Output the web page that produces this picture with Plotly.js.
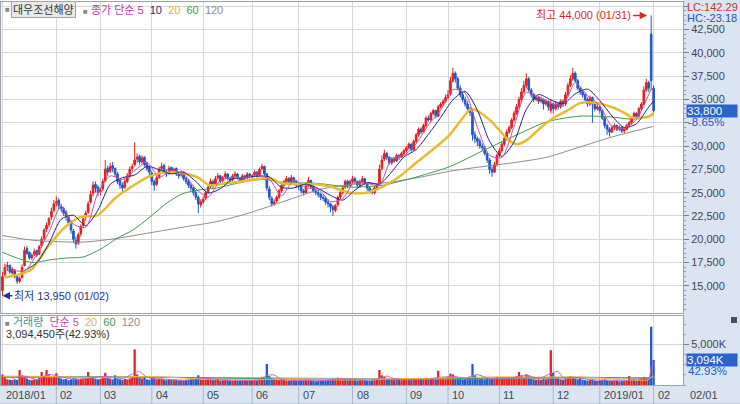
<!DOCTYPE html>
<html><head><meta charset="utf-8">
<script src="https://cdn.plot.ly/plotly-3.0.1.min.js"></script>
<style>html,body{margin:0;padding:0;background:#fff;}#chart{width:740px;height:404px;}</style>
</head><body><div id="chart"></div>
<script>
// ---- daily OHLC (KRW), 2018-01-02 .. 2019-02-01, one value per trading day ----
const openPrice=[
14500,16200,17100,17200,16400,16700,16000,15500,15900,17200,
19000,18600,18000,18400,18800,18400,19300,20100,21100,21600,
22400,23100,23900,24200,23500,23300,22900,22400,21800,20900,
19900,19600,20600,21500,22400,22900,24000,24900,25900,25600,
25100,25400,26300,27600,27300,27900,27600,27000,26300,25800,
25600,26200,26800,27600,28000,28600,28900,28300,28800,28100,
27700,27100,26200,25900,26600,27600,27900,27300,27100,27700,
27200,27600,27000,26900,27200,26500,26200,25800,25500,25000,
24500,23700,24000,24400,25100,25700,26200,25900,26600,26800,
26300,26700,27000,26500,26400,26800,27000,26600,26300,26800,
26600,27000,26700,26900,27200,26900,27600,27800,27000,25400,
24400,23800,24100,24500,25200,25800,26200,26500,26200,26600,
26200,25900,25800,25200,25000,25800,26300,25600,25200,25000,
24800,24500,24400,24000,23800,23500,23100,23700,24500,25000,
25600,26200,25800,26200,26500,26200,25800,26200,26500,26000,
25500,25200,25000,25500,26000,27600,28600,29200,28800,28200,
28600,28400,29000,28800,29200,29500,29800,30200,29600,30500,
31200,31800,31500,32200,33000,32800,33500,33800,33200,34200,
34500,34800,35200,35600,37000,37800,37200,36200,35500,35000,
34500,34000,33600,31200,30800,30500,30000,29800,29200,28500,
27500,27200,28000,29000,29500,30200,30800,31500,32000,32800,
33500,34200,35000,35800,36500,37200,36000,35500,35000,35200,
34800,35000,34500,34800,33800,34500,34000,34500,34200,34800,
34500,35500,36500,37200,37800,37000,36200,35800,35500,35000,
34500,35200,34500,34000,34200,33800,33000,32200,31800,31500,
32000,32200,31800,32000,31600,31800,32200,32500,33000,33500,
33200,34000,34500,36000,36800,42000,36200];
const highPrice=[
16500,17400,17600,17300,17000,16800,16200,16000,17300,19200,
19300,18700,18500,19000,18900,19400,20300,21200,21800,22400,
23400,24200,24600,24400,23800,23500,23100,22600,22000,21100,
20300,20700,21600,22500,23100,24100,25200,26200,26200,25800,
25600,26500,28500,27900,28200,28300,27700,27200,26500,26100,
26500,27100,27800,28100,30400,29200,29100,29000,28900,28300,
27900,27300,26400,26800,27800,28200,28100,27500,27900,27800,
27700,27700,27200,27400,27300,26700,26400,26000,25700,25200,
24700,24300,24600,25200,25800,26500,26400,26800,27100,26900,
26800,27300,27100,26700,27000,27300,27100,26700,27000,26900,
27200,27100,27000,27400,27300,27700,28100,27900,27100,25700,
24600,24300,24700,25400,26000,26400,26800,26700,26900,26700,
26400,26100,25900,25400,26000,26700,26400,25800,25400,25300,
25000,24800,24600,24300,23900,23700,23800,24700,25200,25700,
26400,26400,26400,26800,26700,26300,26400,26800,26600,26100,
25600,25400,25700,26000,28000,29000,29600,29400,28900,28800,
28800,29200,29100,29400,29700,30000,30400,30300,30700,31400,
32000,32000,32400,33200,33300,33700,34000,33900,34400,34700,
35000,35500,36000,37400,38400,38000,37400,36500,35800,35300,
34800,34200,33800,31600,31000,30800,30300,30000,29400,28700,
27800,28300,29200,29800,30500,31000,31800,32200,33000,33800,
34500,35300,36200,37000,37800,37400,36200,35700,35500,35400,
35300,35100,35000,34900,35000,34700,34800,34700,35000,35000,
35800,36800,37600,38400,38000,37200,36400,36000,35700,35200,
35400,35300,34700,34500,34400,33900,33200,32400,32000,32200,
32400,32300,32200,32100,32000,32400,32700,33200,33700,33600,
34200,34700,36400,37200,37000,44000,36500];
const lowPrice=[
13950,16000,16600,16300,16200,15800,15200,15300,15800,17100,
18300,17800,17800,18200,18100,18300,19100,19900,20800,21300,
22100,22900,23500,23200,22900,22500,22000,21500,20600,19600,
19000,19400,20300,21200,22000,22700,23800,24600,25000,24600,
24700,25200,26100,26800,27100,27200,26700,25900,25400,25100,
25400,26000,26600,27300,27800,28200,28000,28100,27800,27300,
26800,25800,25200,25700,26500,27300,27100,26700,26900,27000,
27000,26800,26500,26700,26300,25900,25500,25200,24700,24200,
22800,23400,23800,24200,24900,25500,25500,25700,26400,26000,
26100,26500,26300,26000,26200,26600,26400,26000,26100,26300,
26400,26500,26500,26700,26600,26700,27400,26800,25200,24200,
23500,23600,23900,24300,25000,25600,26000,25900,26000,25900,
25500,25300,24900,24700,24900,25600,25400,25000,24700,24500,
24200,24100,23700,23400,22900,22500,22900,23500,24300,24800,
25400,25500,25600,26000,25900,25500,25600,26000,25800,25200,
24900,24800,24800,25300,25900,27400,28400,28500,28000,28000,
28200,28300,28500,28700,29000,29300,29600,29400,29500,30300,
31000,31300,31400,32000,32600,32600,33300,33000,33100,34000,
34300,34600,35000,35400,36800,36800,36000,35200,34700,34200,
33700,33200,30600,30300,30000,29700,29500,29000,28200,27000,
26700,27100,27800,28800,29300,30000,30600,31300,31800,32600,
33300,34000,34800,35600,36200,35800,35200,34700,34800,34500,
34600,33900,34300,33800,33500,33500,33800,33900,34000,34200,
34300,35300,36300,37000,36800,36000,35500,35200,34700,34200,
34300,32500,33700,33800,33500,32800,31900,31200,31000,31400,
31700,31600,31600,31400,31400,31700,32000,32300,32800,32900,
33100,33800,34400,35800,35800,36000,33600];
const closePrice=[
16000,17000,17200,16500,16800,16000,15500,15800,17000,18800,
18500,18000,18300,18700,18300,19200,20000,21000,21500,22200,
23000,23800,24000,23600,23300,22800,22500,21800,21000,20000,
19500,20500,21400,22200,22800,23800,24800,25800,25500,25000,
25300,26200,27500,27200,27800,27600,27000,26200,25800,25500,
26200,26800,27500,27800,28500,28800,28300,28700,28000,27600,
27200,26200,25800,26600,27500,27800,27300,27000,27600,27200,
27500,27000,26800,27200,26500,26200,25800,25500,25000,24500,
23800,24000,24300,25000,25600,26200,25800,26500,26800,26200,
26600,27000,26500,26300,26800,27000,26600,26200,26800,26500,
27000,26800,26800,27200,26800,27500,27800,27000,25500,24500,
23800,24000,24500,25200,25800,26200,26500,26200,26600,26200,
25800,25800,25200,25000,25800,26300,25600,25200,25000,24800,
24500,24400,24000,23800,23500,23200,23600,24500,25000,25500,
26200,25800,26200,26500,26200,25800,26200,26500,26000,25500,
25200,25000,25500,25800,27500,28500,29200,28800,28200,28600,
28400,29000,28800,29200,29500,29800,30200,29600,30500,31200,
31800,31500,32200,33000,32800,33500,33800,33200,34200,34500,
34800,35200,35500,37000,37800,37200,36200,35500,35000,34500,
34000,33600,31200,30800,30500,30000,29800,29200,28500,27500,
27200,28000,29000,29500,30200,30800,31500,32000,32800,33500,
34200,35000,35800,36500,37200,36000,35500,35000,35200,34800,
35000,34500,34800,34200,34500,34000,34500,34200,34800,34500,
35500,36500,37200,37800,37000,36200,35800,35500,35000,34500,
35200,34500,34000,34200,33800,33000,32200,31800,31500,32000,
32200,31800,32000,31600,31800,32200,32500,33000,33500,33200,
34000,34500,36000,36800,36200,37000,33800];
// ---- daily volume, thousands of shares ----
const volumeK=[
1300,900,700,650,600,700,650,1850,1200,1100,800,650,600,700,650,900,1600,1000,1850,1200,900,1000,
1450,900,800,700,750,600,700,850,800,700,750,800,900,1600,1000,900,800,700,
750,1100,1500,900,800,700,1200,800,700,650,750,700,800,900,4400,1300,900,800,1000,700,650,
900,800,700,750,800,650,600,700,650,600,650,550,600,550,600,650,700,750,800,1200,700,
650,700,800,750,600,700,650,550,600,650,600,550,500,600,550,500,600,550,600,550,
600,650,550,800,1000,900,2600,1100,900,700,650,600,650,600,550,500,600,550,500,
550,500,600,650,700,550,500,450,500,550,500,600,650,700,800,650,900,800,700,750,600,650,
700,600,550,600,650,600,550,500,550,600,650,1850,1200,1000,800,700,650,600,700,650,600,650,
700,650,600,700,800,750,650,700,800,700,750,800,700,1750,800,850,900,
1000,1400,1300,1000,900,800,700,750,800,900,2600,1200,900,800,750,700,850,900,800,900,1000,
900,850,800,900,850,900,1000,1100,1600,1200,1000,1300,1100,800,700,650,700,650,750,700,800,4300,
1500,900,800,700,650,800,1000,1100,1000,800,700,1000,650,600,550,650,700,550,500,
600,650,700,600,550,500,550,500,450,500,550,600,1100,700,650,600,700,800,1000,900,800,7208.13,3094.45];

// ---- moving averages (trading-day index, value) ----
const ma5Day=[4,9,14,19,24,29,34,39,44,49,54,59,64,69,74,79,84,89,94,99,104,109,114,119,124,129,134,139,144,149,154,159,164,169,174,179,184,189,194,199,204,209,214,219,224,229,234,239,244,249,254,259,264,265,266];
const ma5Val=[16700,16600,18360,20780,23540,21620,21280,24980,26800,26420,27360,28280,26660,27380,27000,25400,24540,26300,26640,26620,26920,26460,24660,26340,25520,25380,24040,24360,26180,26000,25800,28660,28980,30260,32260,33840,36060,35680,32020,29000,28780,32120,35740,35300,34600,34400,36800,35400,34340,32100,31880,32880,35500,36100,35960];
const ma10Day=[9,14,19,24,29,34,39,44,49,54,59,64,69,74,79,84,89,94,99,104,109,114,119,124,129,134,139,144,149,154,159,164,169,174,179,184,189,194,199,204,209,214,219,224,229,234,239,244,249,254,259,264,266];
const ma10Val=[16650,17480,19570,22160,22580,21450,23130,25890,26610,26890,27820,27470,27020,27190,26200,24970,25420,26470,26630,26770,26690,25560,25500,25930,25450,24710,24200,25270,26090,25900,27230,28820,29620,31260,33050,34950,35870,33850,30510,28890,30450,33930,35520,34950,34500,35600,36100,34870,33220,31990,32380,34190,34800];
const ma20Day=[1,11.5,18.5,25.5,32,39,46,52.5,59.5,66.5,73,80,84.5,91,100.6,109,114,128,134.6,141.6,148.6,155,162,169,175.7,182.7,188,191,193.8,199,203,206,210,214,219.6,225,230.7,236,243,249.6,253.7,257.8,263.5,266];
const ma20Val=[15900,16700,19200,21300,22400,22600,24400,25600,26700,27200,27100,26600,25800,26000,26300,26600,26000,25900,25600,25000,25000,25600,26700,28200,29600,31200,33000,33900,33800,32800,31700,30800,30200,30600,31900,33000,33800,34600,34600,34100,33600,33000,33100,33500];
const ma60Day=[0,5.9,12.5,19.4,26.3,32.9,39.8,46.8,53.3,60.3,67.2,73.7,80.7,87.6,94.1,101.1,108,114.6,128.5,142,155.4,169.3,182.8,196.3,208.5,222.4,235.9,249.4,256.3,265.7];
const ma60Val=[18600,18000,17500,17800,18000,18100,18900,20100,21000,22400,23900,24900,25300,25500,25900,26300,26400,26100,26000,25600,25800,26700,27800,29500,31000,32600,33200,33100,32900,33300];
const ma120Day=[0,12.5,32.9,46.8,60.3,73.7,87.6,101.1,115.4,129.7,143.2,156.3,170.5,182.8,196.3,208.5,222.4,235.9,249.4,265.7];
const ma120Val=[20400,19900,19700,20100,20700,21300,21900,22850,24100,25350,25900,26050,26650,27300,27800,28200,28800,29900,31000,32100];
// volume moving averages (thousands)
const vma5Day=[4,9,14,19,24,29,34,39,44,49,54,56,59,64,69,74,79,84,89,94,99,104,108,111,114,119,124,129,134,139,144,149,154,157,159,164,169,174,178,181,184,189,192,194,199,204,209,214,219,224,227,229,234,239,244,249,254,259,264,265,266];
const vma5Val=[830,1100,680,1310,1010,720,790,1000,1010,810,1510,1660,940,760,680,590,700,810,650,580,560,590,1170,1240,700,560,560,540,600,770,660,590,830,1100,870,640,690,720,940,1000,1090,830,1150,1280,800,890,890,1240,790,1440,1660,910,940,700,600,600,510,730,840,2140,2600];
const vma20Day=[0,20,40,60,80,100,120,140,160,180,200,220,235,245,255,264,265,266];
const vma20Val=[1100,1050,900,1060,760,640,760,620,760,850,1000,980,1000,850,620,670,1000,1120];
const vma60Day=[0,30,60,90,120,150,180,210,240,264,266];
const vma60Val=[950,1000,980,850,720,650,760,900,950,880,1000];
const vma120Day=[0,60,120,180,240,266];
const vma120Val=[1000,960,850,730,860,900];

// ---- axes ----
const monthStartIdx=[0,22,40,61,82,102,121,143,165,182,203,225,244,266];
const monthLabels=["2018/01","02","03","04","05","06","07","08","09","10","11","12","2019/01","02"];
const priceTicks=[15000,17500,20000,22500,25000,27500,30000,32500,35000,37500,40000,42500,45000];
const priceTickLabels=["15,000","17,500","20,000","22,500","25,000","27,500","30,000","","35,000","37,500","40,000","42,500",""];
const volTicks=[5000];
const volTickLabels=["5,000K"];

// ---- styling ----
const UP='#e0201c', DN='#2058c4';
const PANEL='#dbe5f2';
const FONT='Liberation Sans, Arial, Noto Sans CJK KR, sans-serif';
const TXT='#3d4654';
const PX_L=1, PX_R=683, PX_T=2, PX_B=385;
const pX=px=>(px-PX_L)/(PX_R-PX_L);
const pY=py=>(PX_B-py)/(PX_B-PX_T);

const dayIdx=closePrice.map((_,i)=>i);
const volColors=closePrice.map((c,i)=>c>=openPrice[i]?UP:DN);

function ln(x,y,color,width,xa,ya){
  return {type:'scatter',mode:'lines',x:x,y:y,xaxis:xa,yaxis:ya,hoverinfo:'skip',
    line:{color:color,width:width,shape:'spline',smoothing:0.7}};
}
const traces=[
  {type:'candlestick',x:dayIdx,open:openPrice,high:highPrice,low:lowPrice,close:closePrice,
   xaxis:'x',yaxis:'y',whiskerwidth:0,hoverinfo:'skip',
   increasing:{line:{color:UP,width:1},fillcolor:UP},
   decreasing:{line:{color:DN,width:1},fillcolor:DN}},
  ln(ma120Day,ma120Val,'#8c8c8c',1,'x','y'),
  ln(ma60Day,ma60Val,'#3f9a4f',1,'x','y'),
  ln(ma20Day,ma20Val,'#e9bb2e',2.5,'x','y'),
  ln(ma10Day,ma10Val,'#1d2878',1,'x','y'),
  ln(ma5Day,ma5Val,'#d24bb0',1,'x','y'),
  {type:'bar',x:dayIdx,y:volumeK,xaxis:'x2',yaxis:'y2',width:0.92,hoverinfo:'skip',
   marker:{color:volColors,line:{width:0}}},
  ln(vma120Day,vma120Val,'#9a9a9a',1,'x2','y2'),
  ln(vma60Day,vma60Val,'#3f9a4f',1,'x2','y2'),
  ln(vma20Day,vma20Val,'#e6bd3a',1,'x2','y2'),
  ln(vma5Day,vma5Val,'#d060c8',1,'x2','y2')
];

const gridC='#d6d6d6', lineC='#9aa2ad';
const xBase={range:[-0.6,278],showticklabels:false,ticks:'',tickvals:monthStartIdx,
  showgrid:true,gridcolor:gridC,gridwidth:1,zeroline:false,showline:true,linecolor:lineC,mirror:true,
  fixedrange:true,rangeslider:{visible:false}};
const layout={
  width:740,height:404,margin:{l:1,r:57,t:2,b:19},
  paper_bgcolor:'#ffffff',plot_bgcolor:'#ffffff',showlegend:false,
  boxgap:0.05,
  font:{family:FONT,size:11,color:TXT},
  xaxis:Object.assign({},xBase,{domain:[0,1],anchor:'y'}),
  xaxis2:Object.assign({},xBase,{domain:[0,1],anchor:'y2'}),
  yaxis:{domain:[0.188,1],range:[12100,45440],side:'right',anchor:'x',
    tickvals:priceTicks,ticktext:priceTickLabels,ticks:'outside',ticklen:5,tickcolor:'#6f7f94',
    minor:{dtick:500,tick0:0,ticks:'outside',ticklen:2,tickcolor:'#8f9db0',showgrid:false},
    showgrid:true,gridcolor:gridC,zeroline:false,showline:true,linecolor:lineC,mirror:true,
    tickfont:{family:FONT,size:11,color:TXT}},
  yaxis2:{domain:[0,0.18],range:[0,8520],side:'right',anchor:'x2',
    tickvals:volTicks,ticktext:volTickLabels,ticks:'outside',ticklen:5,tickcolor:'#6f7f94',
    minor:{dtick:1250,tick0:0,ticks:'outside',ticklen:2,tickcolor:'#8f9db0',showgrid:false},
    showgrid:true,gridcolor:gridC,zeroline:false,showline:true,linecolor:lineC,mirror:true,
    tickfont:{family:FONT,size:11,color:TXT}},
  shapes:[
    {type:'rect',xref:'paper',yref:'paper',x0:1,x1:pX(741),y0:pY(405),y1:pY(0),fillcolor:PANEL,line:{width:0},layer:'below'},
    {type:'rect',xref:'paper',yref:'paper',x0:pX(0),x1:1,y0:pY(405),y1:0,fillcolor:PANEL,line:{width:0},layer:'below'},
    {type:'line',xref:'paper',yref:'paper',x0:pX(0),x1:pX(741),y0:pY(404),y1:pY(404),line:{color:'#b0bccb',width:1}},
    {type:'rect',xref:'paper',yref:'paper',x0:pX(731),x1:pX(737),y0:pY(323),y1:pY(317),fillcolor:'#505050',line:{width:0}}
  ].concat(monthStartIdx.slice(1).map(v=>({type:'line',xref:'x2',yref:'paper',x0:v,x1:v,y0:pY(404),y1:0,
     line:{color:'#aab6c6',width:1}}))),
  annotations:[]
};
const A=layout.annotations;
function note(o){A.push(Object.assign({showarrow:false,font:{family:FONT,size:11,color:TXT}},o));}
// top legend
note({xref:'paper',yref:'paper',x:pX(3),y:pY(9.5),xanchor:'left',yanchor:'middle',
  text:'<span style="font-size:8px;color:#8a8a8a">■</span>'});
note({xref:'paper',yref:'paper',x:pX(11),y:pY(9.5),xanchor:'left',yanchor:'middle',text:'대우조선해양',
  bgcolor:'#e9e9e9',bordercolor:'#a3a3a3',borderwidth:1,borderpad:1,font:{family:FONT,size:11,color:'#333'}});
note({xref:'paper',yref:'paper',x:pX(81),y:pY(9.5),xanchor:'left',yanchor:'middle',
  text:'<span style="font-size:8px;color:#8a8a8a">■</span> <span style="color:#c43aa6">종가 단순 5</span>\u00a0\u00a0<span style="color:#1d2878">10</span>\u00a0\u00a0<span style="color:#e0b43c">20</span>\u00a0\u00a0<span style="color:#3f9a4f">60</span>\u00a0\u00a0<span style="color:#8c8c8c">120</span>'});
// volume legend
note({xref:'paper',yref:'paper',x:pX(3),y:pY(322),xanchor:'left',yanchor:'middle',
  text:'<span style="font-size:8px;color:#8a8a8a">■</span> <span style="color:#3a95a0">거래량</span>\u00a0\u00a0<span style="color:#c44cb8">단순 5</span>\u00a0\u00a0<span style="color:#e0b43c">20</span>\u00a0\u00a0<span style="color:#3f9a4f">60</span>\u00a0\u00a0<span style="color:#8c8c8c">120</span>'});
note({xref:'paper',yref:'paper',x:pX(4),y:pY(334),xanchor:'left',yanchor:'middle',text:'3,094,450주(42.93%)',font:{family:FONT,size:11,color:'#333'}});
// high / low markers
A.push({xref:'x',yref:'y',x:265,y:44000,ax:-18,ay:0,xanchor:'right',yanchor:'middle',showarrow:true,
  arrowhead:2,arrowsize:1,arrowwidth:1.5,arrowcolor:'#d42a2a',standoff:4,
  text:'최고 44,000 (01/31)',font:{family:FONT,size:11,color:'#d42a2a'}});
A.push({xref:'x',yref:'y',x:0,y:13950,ax:10,ay:0,xanchor:'left',yanchor:'middle',showarrow:true,
  arrowhead:2,arrowsize:1,arrowwidth:1.5,arrowcolor:'#24349a',standoff:0,
  text:'최저 13,950 (01/02)',font:{family:FONT,size:11,color:'#24349a'}});
// right panel info
note({xref:'paper',yref:'paper',x:pX(685),y:pY(7),xanchor:'left',yanchor:'middle',text:'LC:142.29',font:{family:FONT,size:11,color:'#d03030'}});
note({xref:'paper',yref:'paper',x:pX(685),y:pY(18),xanchor:'left',yanchor:'middle',text:'HC:-23.18',font:{family:FONT,size:11,color:'#2855b0'}});
note({xref:'paper',yref:'y',x:pX(686),y:closePrice[closePrice.length-1],xanchor:'left',yanchor:'middle',
  text:'33,800',bgcolor:'#2a63cc',borderpad:0,width:50,align:'left',font:{family:FONT,size:11.5,color:'#ffffff'}});
note({xref:'paper',yref:'paper',x:pX(686),y:pY(122),xanchor:'left',yanchor:'middle',text:'-8.65%',font:{family:FONT,size:11.5,color:'#2458c0'}});
note({xref:'paper',yref:'y2',x:pX(686),y:volumeK[volumeK.length-1],xanchor:'left',yanchor:'middle',
  text:'3,094K',bgcolor:'#2a63cc',borderpad:0,width:50,align:'left',font:{family:FONT,size:11.5,color:'#ffffff'}});
note({xref:'paper',yref:'paper',x:pX(686),y:pY(371),xanchor:'left',yanchor:'middle',text:'42.93%',font:{family:FONT,size:11.5,color:'#2458c0'}});
// month labels
monthStartIdx.forEach((v,i)=>note({xref:'x2',yref:'paper',x:v,xshift:2,y:pY(395),xanchor:'left',yanchor:'middle',text:monthLabels[i]}));
note({xref:'paper',yref:'paper',x:pX(688),y:pY(395),xanchor:'left',yanchor:'middle',text:'02/01'});

Plotly.newPlot('chart',traces,layout,{staticPlot:true,displayModeBar:false});
</script></body></html>
